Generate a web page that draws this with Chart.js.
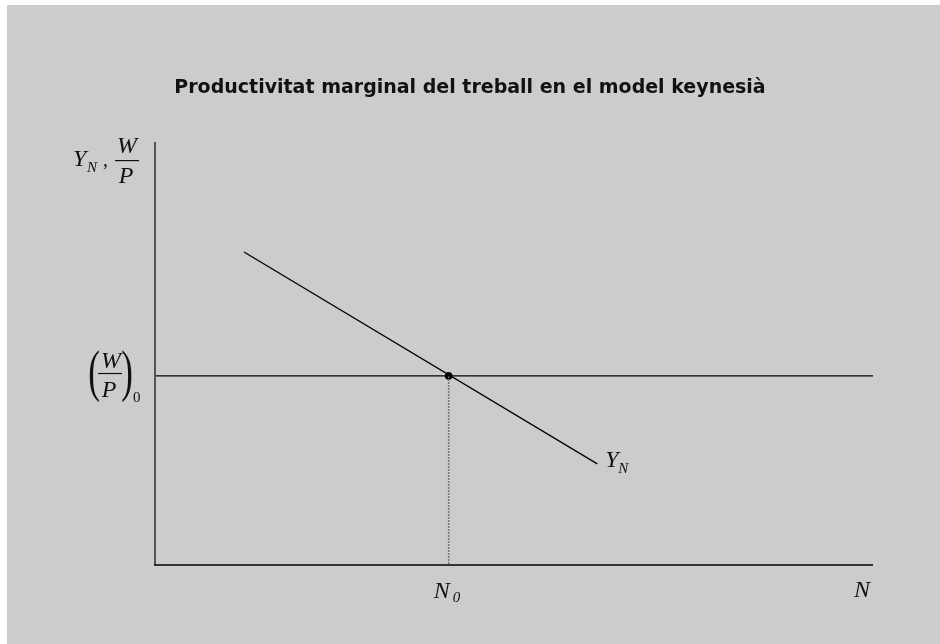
<!DOCTYPE html>
<html>
<head>
<meta charset="utf-8">
<script src="https://cdn.jsdelivr.net/npm/chart.js@4.4.1/dist/chart.umd.min.js"></script>
<style>
  html, body { margin: 0; padding: 0; background: #ffffff; }
  #wrap { position: absolute; left: 7px; top: 5px; width: 933px; height: 639px; background: #cccccc; }
  #grafic { display: block; }
</style>
</head>
<body>
<div id="wrap"><canvas id="grafic" width="933" height="639"></canvas></div>
<script>
// Dades del gràfic (unitats arbitràries)
const titol = 'Productivitat marginal del treball en el model keynesià';
const rangX = [0, 10];
const rangY = [0, 10];
// corba de productivitat marginal Y_N (punt inicial i final)
const corbaX = [1.24, 6.16];
const corbaY = [7.40, 2.39];
// salari real (W/P)_0
const salariReal = 4.47;
// ocupació d'equilibri N_0
const ocupacio = 4.09;

// Textos dels eixos i etiquetes
function escriu(ctx, text, x, y, mida, italic) {
    ctx.font = (italic ? 'italic ' : '') + mida + 'px "Liberation Serif", "DejaVu Serif", serif';
    ctx.fillText(text, x, y);
}

// parèntesi allargat verticalment
function parentesi(ctx, text, x, y) {
    ctx.save();
    ctx.translate(x, y);
    ctx.scale(1, 1.6);
    ctx.font = '35px "Liberation Serif", serif';
    ctx.textAlign = 'center';
    ctx.fillText(text, 0, 0);
    ctx.restore();
}

const etiquetes = {
    id: 'etiquetes',
    beforeDraw(chart) {
        const { ctx } = chart;
        ctx.save();
        // títol
        ctx.fillStyle = '#111111';
        ctx.font = 'bold 19px "DejaVu Sans", sans-serif';
        ctx.textAlign = 'center';
        ctx.textBaseline = 'middle';
        ctx.fillText(titol, 463, 83);
        ctx.restore();
    },
    afterDraw(chart) {
        const { ctx, chartArea, scales } = chart;
        const x = scales.x, y = scales.y;
        ctx.save();
        // eixos
        ctx.strokeStyle = '#555555';
        ctx.lineWidth = 2;
        ctx.beginPath();
        ctx.moveTo(chartArea.left, chartArea.top);
        ctx.lineTo(chartArea.left, chartArea.bottom);
        ctx.stroke();
        ctx.strokeStyle = '#000000';
        ctx.lineWidth = 1.5;
        ctx.beginPath();
        ctx.moveTo(chartArea.left - 1, chartArea.bottom);
        ctx.lineTo(chartArea.right, chartArea.bottom);
        ctx.stroke();

        ctx.fillStyle = '#111111';
        ctx.textAlign = 'left';
        ctx.textBaseline = 'alphabetic';

        // Y_N , W/P (eix vertical)
        const l = chartArea.left;
        const t = chartArea.top;
        escriu(ctx, 'Y', l - 82, t + 24, 24, true);
        escriu(ctx, 'N', l - 68, t + 30, 15, true);
        escriu(ctx, ',', l - 52, t + 24, 20, false);
        ctx.textAlign = 'center';
        escriu(ctx, 'W', l - 28, t + 11, 24, true);
        escriu(ctx, 'P', l - 29, t + 41, 24, true);
        ctx.fillRect(l - 40, t + 18, 24, 1.2);

        // (W/P)_0
        const ys = y.getPixelForValue(salariReal);
        escriu(ctx, 'W', l - 44, ys - 8, 24, true);
        escriu(ctx, 'P', l - 46, ys + 21, 24, true);
        ctx.fillRect(l - 57, ys - 3, 24, 1.2);
        parentesi(ctx, '(', l - 61, ys + 14);
        parentesi(ctx, ')', l - 28, ys + 14);
        ctx.textAlign = 'left';
        escriu(ctx, '0', l - 22, ys + 26, 15, false);

        // Y_N al final de la corba
        const xf = x.getPixelForValue(corbaX[1]);
        const yf = y.getPixelForValue(corbaY[1]);
        escriu(ctx, 'Y', xf + 8, yf + 3, 24, true);
        escriu(ctx, 'N', xf + 21, yf + 9, 15, true);

        // N_0
        const xn = x.getPixelForValue(ocupacio);
        escriu(ctx, 'N', xn - 15, chartArea.bottom + 33, 24, true);
        escriu(ctx, '0', xn + 4, chartArea.bottom + 37, 15, true);

        // N
        escriu(ctx, 'N', chartArea.right - 19, chartArea.bottom + 32, 24, true);
        ctx.restore();
    }
};

new Chart(document.getElementById('grafic'), {
    type: 'scatter',
    data: {
        datasets: [
            {
                // salari real
                data: [{ x: rangX[0], y: salariReal }, { x: rangX[1], y: salariReal }],
                showLine: true,
                borderColor: '#000000',
                borderWidth: 1.2,
                pointRadius: 0
            },
            {
                // productivitat marginal
                data: [{ x: corbaX[0], y: corbaY[0] }, { x: corbaX[1], y: corbaY[1] }],
                showLine: true,
                borderColor: '#000000',
                borderWidth: 1.3,
                pointRadius: 0
            },
            {
                // línia de punts cap a N_0
                data: [{ x: ocupacio, y: salariReal }, { x: ocupacio, y: rangY[0] }],
                showLine: true,
                borderColor: '#777777',
                borderWidth: 1.5,
                borderDash: [2, 1],
                pointRadius: 0
            },
            {
                // punt d'equilibri
                data: [{ x: ocupacio, y: salariReal }],
                pointRadius: 3.5,
                pointBackgroundColor: '#000000',
                pointBorderColor: '#000000'
            }
        ]
    },
    options: {
        responsive: false,
        animation: false,
        layout: {
            padding: { left: 148, top: 137, right: 67, bottom: 79 }
        },
        scales: {
            x: { type: 'linear', min: rangX[0], max: rangX[1], display: false },
            y: { type: 'linear', min: rangY[0], max: rangY[1], display: false }
        },
        plugins: {
            legend: { display: false },
            tooltip: { enabled: false },
            title: { display: false }
        }
    },
    plugins: [etiquetes]
});
</script>
</body>
</html>
